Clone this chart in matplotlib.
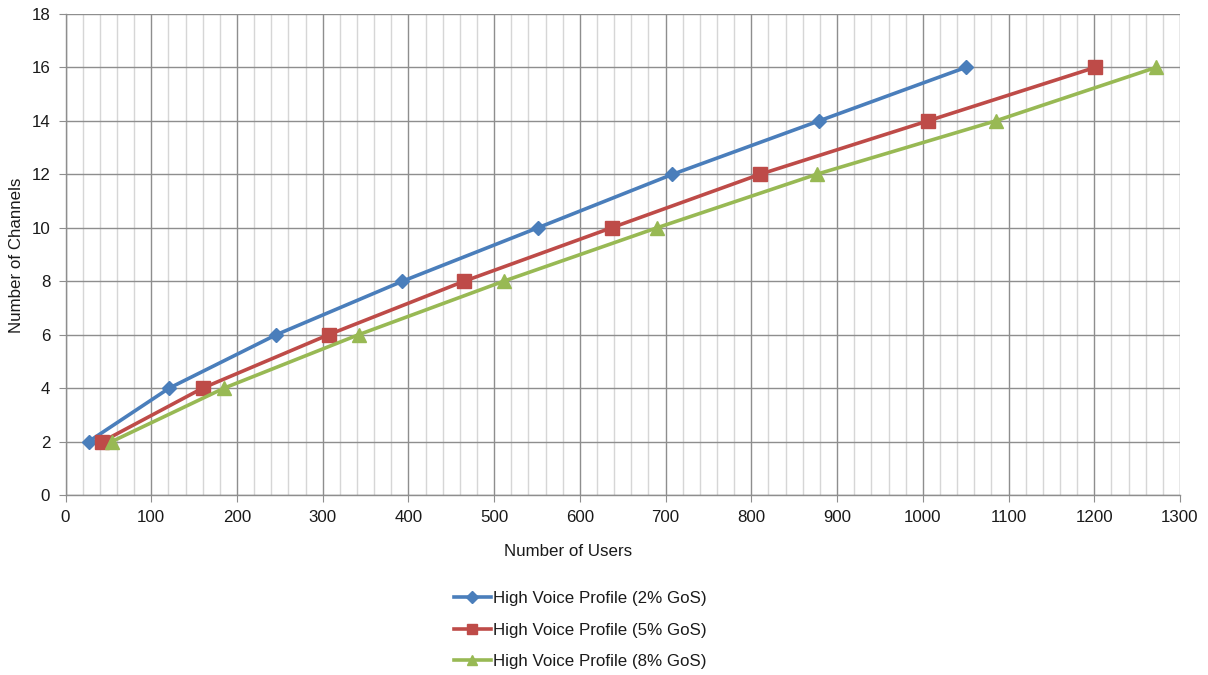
import matplotlib
matplotlib.use("Agg")
import matplotlib.pyplot as plt
from matplotlib.ticker import MultipleLocator

plt.rcParams['font.family'] = ['Liberation Sans', 'DejaVu Sans']

channels = [2, 4, 6, 8, 10, 12, 14, 16]
users_2 = [27, 121, 246, 393, 551, 708, 879, 1050]
users_5 = [43, 160, 307, 465, 637, 810, 1006, 1201]
users_8 = [54, 185, 342, 511, 690, 876, 1085, 1272]
labels = ["High Voice Profile (2% GoS)", "High Voice Profile (5% GoS)", "High Voice Profile (8% GoS)"]
colors = ["#4A7EBB", "#BE4B48", "#98B954"]
markers = ["D", "s", "^"]
msizes = [7.5, 9.5, 9.5]

FS = 12.2

fig = plt.figure(figsize=(12.08, 6.75), dpi=100)
ax = fig.add_axes([65.5/1208, 1-495/675, (1180-65.5)/1208, (495-14)/675])

handles = []
for xs, lab, c, m, ms in zip([users_2, users_5, users_8], labels, colors, markers, msizes):
    h, = ax.plot(xs, channels, color=c, lw=2.6, marker=m, ms=ms, mec=c, mfc=c, label=lab, zorder=3)
    handles.append(h)

ax.set_xlim(0, 1300)
ax.set_ylim(0, 18)
ax.xaxis.set_major_locator(MultipleLocator(100))
ax.xaxis.set_minor_locator(MultipleLocator(20))
ax.yaxis.set_major_locator(MultipleLocator(2))
ax.grid(which='major', color='#8E8E8E', lw=1.0, zorder=1)
ax.grid(which='minor', axis='x', color='#D6D6D6', lw=1.0, zorder=0)
ax.tick_params(which='major', length=5, color='#8E8E8E', labelsize=FS, labelcolor='#1a1a1a', pad=6)
ax.tick_params(which='minor', length=0)
for s in ['top', 'right']:
    ax.spines[s].set_visible(False)
for s in ['left', 'bottom']:
    ax.spines[s].set_color('#8E8E8E')
    ax.spines[s].set_linewidth(1.0)

fig.text(17/1208, 1-255/675, "Number of Channels", rotation=90, ha='center', va='center', fontsize=FS, color='#1a1a1a')
fig.text(568/1208, 1-551/675, "Number of Users", ha='center', va='center', fontsize=FS, color='#1a1a1a')

leg = fig.legend(handles=handles, loc='center', bbox_to_anchor=(580/1208, 1-630/675), frameon=False,
                 fontsize=FS, handlelength=2.2, handletextpad=0.1, labelspacing=0.98, markerscale=0.8)
for t in leg.get_texts():
    t.set_color('#1a1a1a')

fig.savefig("out.png", dpi=100)
